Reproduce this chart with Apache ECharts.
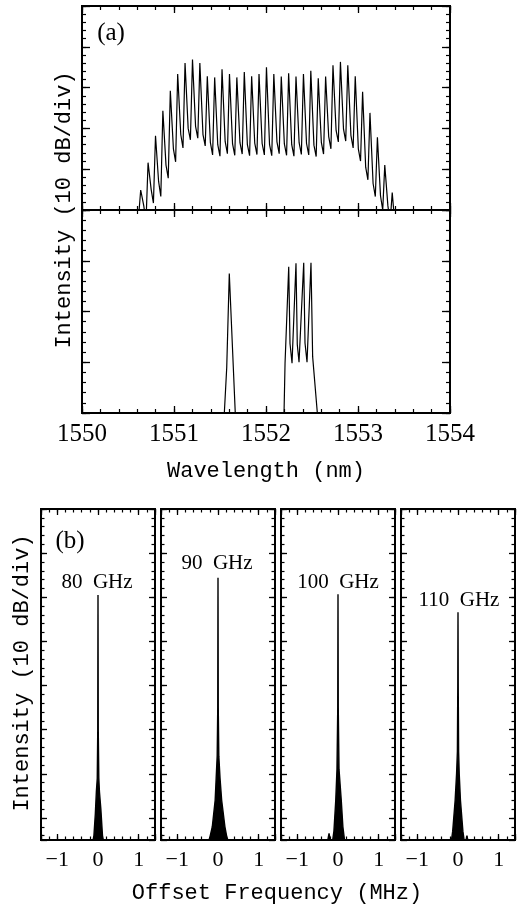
<!DOCTYPE html>
<html><head><meta charset="utf-8">
<script src="https://cdn.jsdelivr.net/npm/echarts@6/dist/echarts.min.js"></script>
<style>html,body{margin:0;padding:0;background:#fff}#c{width:518px;height:908px}</style>
</head><body><div id="c"></div>
<script>
// ---------- Panel (a), upper: 10 GHz comb spectrum ----------
const peakWl = [1550.638, 1550.718, 1550.799, 1550.879, 1550.960, 1551.040, 1551.120, 1551.201, 1551.281, 1551.362,
  1551.442, 1551.522, 1551.603, 1551.683, 1551.764, 1551.844, 1551.924, 1552.005, 1552.085, 1552.166,
  1552.246, 1552.326, 1552.407, 1552.487, 1552.568, 1552.648, 1552.728, 1552.809, 1552.889, 1552.970,
  1553.050, 1553.130, 1553.211, 1553.291, 1553.372];
const peakDb = [4.9, 11.6, 18.2, 24.3, 29.2, 33.3, 36.0, 36.9, 36.0, 32.8,
  32.5, 34.5, 33.3, 32.5, 33.8, 32.8, 33.3, 35.0, 33.3, 32.7,
  33.5, 32.7, 33.3, 34.1, 32.3, 32.7, 35.5, 36.3, 35.5, 32.8,
  29.0, 23.8, 17.8, 11.0, 4.3];
const shoulderDb = [1.0, 5.0, 7.0, 11.0, 15.0, 18.5, 20.0, 20.5, 18.5, 16.5,
  16.0, 16.8, 16.2, 16.5, 16.0, 16.4, 16.3, 16.0, 16.7, 16.2,
  16.0, 16.5, 16.3, 15.9, 16.6, 18.0, 19.5, 19.8, 18.3, 15.0,
  10.5, 6.5, 3.5, 1.0];
const valleyDb = [-3.0, 1.7, 3.3, 7.8, 11.8, 15.2, 17.2, 17.6, 15.7, 13.5,
  13.2, 13.8, 13.4, 13.7, 13.3, 13.6, 13.5, 13.3, 13.8, 13.4,
  13.2, 13.6, 13.5, 13.1, 13.7, 15.0, 16.7, 16.9, 15.2, 12.0,
  7.4, 3.3, 0.0, -3.0];
const edgeWl = [1550.600, 1553.410];
const edgeDb = [-6, -6];

// ---------- Panel (a), lower: selected lines ----------
const lowerWl = [1551.540, 1551.547, 1551.573, 1551.601, 1551.666, 1551.672,
  1552.190, 1552.196, 1552.207, 1552.218, 1552.247, 1552.261, 1552.283, 1552.326,
  1552.340, 1552.359, 1552.410, 1552.424, 1552.446, 1552.489, 1552.507, 1552.558, 1552.565];
const lowerDb = [-3, 0, 8.9, 27.5, 0, -3,
  -3, 0, 9.8, 9.8, 28.8, 13.7, 9.8, 29.5,
  13.5, 10.0, 29.6, 13.8, 10.0, 29.6, 11.1, 0, -3];

// ---------- Panel (b): beat-note spectra ----------
const beatLabels = ['80  GHz', '90  GHz', '100  GHz', '110  GHz'];
const beat80 = [[-1.4,-75],[-0.12,-75],[-0.1,-74],[-0.065,-69],[-0.04,-64],[-0.018,-61],[-0.006,-50],[0,-19.5],[0.006,-50],[0.02,-61],[0.035,-64],[0.07,-68],[0.11,-74],[0.13,-75],[1.4,-75]];
const beat90 = [[-1.4,-75],[-0.22,-75],[-0.19,-74],[-0.14,-72],[-0.07,-66],[-0.045,-61],[-0.02,-56],[-0.006,-45],[0,-15.6],[0.006,-45],[0.02,-56],[0.05,-61],[0.09,-66],[0.17,-72],[0.21,-74],[0.24,-75],[1.4,-75]];
const beat100 = [[-1.4,-75],[-0.25,-75],[-0.22,-73.5],[-0.19,-75],[-0.13,-75],[-0.1,-73],[-0.055,-66],[-0.025,-59],[-0.006,-45],[0,-19.3],[0.006,-45],[0.025,-59],[0.08,-66],[0.12,-72],[0.16,-75],[1.4,-75]];
const beat110 = [[-1.4,-75],[-0.16,-75],[-0.13,-73],[-0.07,-66],[-0.035,-60],[-0.015,-55],[-0.005,-40],[0,-23.4],[0.005,-40],[0.015,-55],[0.03,-60],[0.06,-66],[0.12,-73],[0.15,-75],[0.2,-75],[0.22,-74],[0.24,-75],[1.4,-75]];
const beatData = [beat80, beat90, beat100, beat110];

const rangeA = [1550, 1554];   // wavelength range (nm)
const rangeB = [-1.4, 1.4];    // offset range (MHz)

// ---------- minor tick positions (evenly spaced, edge to edge) ----------
const minorAx = ['1550.0','1550.2','1550.4','1550.6','1550.8','1551.0','1551.2','1551.4','1551.6','1551.8',
  '1552.0','1552.2','1552.4','1552.6','1552.8','1553.0','1553.2','1553.4','1553.6','1553.8','1554.0'];
const minorAy0 = ['0','2','4','6','8','10','12','14','16','18','20','22','24','26','28','30','32','34','36','38','40',
  '42','44','46','48','50'];
const minorAy1 = ['0','2','4','6','8','10','12','14','16','18','20','22','24','26','28','30','32','34','36','38','40'];
const minorBx = ['-1.4','-1.2','-1.0','-0.8','-0.6','-0.4','-0.2','0','0.2','0.4','0.6','0.8','1.0','1.2','1.4'];
const minorBy = ['-75','-74','-73','-72','-71','-70','-69','-68','-67','-66','-65','-64','-63','-62','-61','-60',
  '-59','-58','-57','-56','-55','-54','-53','-52','-51','-50','-49','-48','-47','-46','-45','-44','-43','-42','-41','-40',
  '-39','-38','-37','-36','-35','-34','-33','-32','-31','-30','-29','-28','-27','-26','-25','-24','-23','-22','-21','-20',
  '-19','-18','-17','-16','-15','-14','-13','-12','-11','-10','-9','-8','-7','-6','-5','-4','-3','-2','-1','0'];

// ---------- build ----------
const topPts = [[edgeWl[0], edgeDb[0]]];
for (let i = 0; i < peakWl.length; i++) {
  topPts.push([peakWl[i], peakDb[i]]);
  if (i < peakWl.length - 1) {
    const d = peakWl[i + 1] - peakWl[i];
    topPts.push([peakWl[i] + 0.42 * d, shoulderDb[i]]);
    topPts.push([peakWl[i] + 0.72 * d, valleyDb[i]]);
  }
}
topPts.push([edgeWl[1], edgeDb[1]]);
const lowPts = lowerWl.map((w, i) => [w, lowerDb[i]]);

const FS = "'Liberation Serif', serif";
const FM = "'Liberation Mono', monospace";

function axis(grid, pos, o) {
  const a = {
    type: 'value', gridIndex: grid, position: pos, min: o.min, max: o.max,
    axisLine: { show: true, onZero: false, lineStyle: { color: '#000', width: 2 } },
    axisTick: { show: true, inside: true, length: o.tl, lineStyle: { color: '#000', width: 1.3 } },
    splitLine: { show: false },
    axisLabel: { show: false }
  };
  if (o.interval != null) a.interval = o.interval;
  if (o.splitNumber != null) a.splitNumber = o.splitNumber;
  if (o.label) a.axisLabel = o.label;
  return a;
}
// category axis used only to draw the minor ticks (every category gets a tick)
function minorAxis(grid, pos, cats, len, evenOnly) {
  return {
    type: 'category', gridIndex: grid, position: pos, data: cats, boundaryGap: false,
    axisLine: { show: true, onZero: false, lineStyle: { color: '#000', width: 2 } },
    axisTick: { show: true, inside: true, length: len, alignWithLabel: false,
      interval: evenOnly ? function (idx, val) { return Number(val) % 2 === 0; } : 0,
      lineStyle: { color: '#000', width: 1.2 } },
    splitLine: { show: false },
    axisLabel: { show: false, interval: 0 }
  };
}

const grids = [
  { left: 82, top: 6, width: 368, height: 204 },
  { left: 82, top: 210, width: 368, height: 203 }
];
const bLefts = [41, 161, 281, 401];
bLefts.forEach(l => grids.push({ left: l, top: 509, width: 114, height: 331 }));

const xAxes = [], yAxes = [], series = [];
const aLabel = { show: true, color: '#000', fontFamily: FS, fontSize: 25, margin: 9, formatter: v => String(Math.round(v)) };
const bLabel = { show: true, color: '#000', fontFamily: FS, fontSize: 22, margin: 9,
  formatter: v => (Math.abs(v - Math.round(v)) < 1e-6 ? (v < 0 ? '\u2212' + (-Math.round(v)) : String(Math.round(v))) : '') };

function addGridAxes(g, xo, yo, label) {
  const xi = xAxes.length, yi = yAxes.length;
  xAxes.push(axis(g, 'bottom', Object.assign({}, xo.major, { label: label })));
  xAxes.push(axis(g, 'top', xo.major));
  xAxes.push(minorAxis(g, 'bottom', xo.cats, xo.ml, false));
  xAxes.push(minorAxis(g, 'top', xo.cats, xo.ml, false));
  yAxes.push(axis(g, 'left', yo.major));
  yAxes.push(axis(g, 'right', yo.major));
  yAxes.push(minorAxis(g, 'left', yo.cats, yo.ml, !!yo.evenOnly));
  yAxes.push(minorAxis(g, 'right', yo.cats, yo.ml, !!yo.evenOnly));
  return [xi, yi];
}

// panel (a)
const xA = { major: { min: rangeA[0], max: rangeA[1], interval: 1, tl: 7 }, cats: minorAx, ml: 4 };
const yA0 = { major: { min: 0, max: 50, interval: 10, tl: 8 }, cats: minorAy0, ml: 4 };
const yA1 = { major: { min: 0, max: 40, interval: 10, tl: 8 }, cats: minorAy1, ml: 4 };
const a0 = addGridAxes(0, xA, yA0, null);
const a1 = addGridAxes(1, xA, yA1, aLabel);
series.push({ type: 'line', xAxisIndex: a0[0], yAxisIndex: a0[1], data: topPts, symbol: 'none',
  lineStyle: { color: '#000', width: 1.2 } });
series.push({ type: 'line', xAxisIndex: a1[0], yAxisIndex: a1[1], data: lowPts, symbol: 'none',
  lineStyle: { color: '#000', width: 1.2 } });

// panel (b)
const xB = { major: { min: rangeB[0], max: rangeB[1], splitNumber: 3, tl: 6 }, cats: minorBx, ml: 3.5 };
const yB = { major: { min: -75, max: 0, splitNumber: 7, tl: 6 }, cats: minorBy, ml: 3.5, evenOnly: true };
for (let k = 0; k < 4; k++) {
  const ax = addGridAxes(2 + k, xB, yB, bLabel);
  series.push({ type: 'line', xAxisIndex: ax[0], yAxisIndex: ax[1], data: beatData[k], symbol: 'none',
    lineStyle: { color: '#000', width: 1.4 }, areaStyle: { color: '#000', opacity: 1, origin: 'start' } });
}

function txt(x, y, s, font, size, rot) {
  return { type: 'text', x: x, y: y, rotation: rot || 0, silent: true,
    style: { text: s, fill: '#000', font: size + 'px ' + font, align: 'center', verticalAlign: 'middle',
      textAlign: 'center', textVerticalAlign: 'middle' } };
}
const bLabelPos = [[97, 582], [217, 563], [338, 582], [459, 600]];
const graphics = [
  txt(111, 33, '(a)', FS, 25),
  txt(70, 541, '(b)', FS, 25),
  txt(266, 471, 'Wavelength (nm)', FM, 22),
  txt(277, 893, 'Offset Frequency (MHz)', FM, 22),
  txt(64, 210, 'Intensity (10 dB/div)', FM, 22, Math.PI / 2),
  txt(22, 673, 'Intensity (10 dB/div)', FM, 22, Math.PI / 2)
];
beatLabels.forEach((s, i) => graphics.push(txt(bLabelPos[i][0], bLabelPos[i][1], s, FS, 21)));

const chart = echarts.init(document.getElementById('c'));
chart.setOption({
  animation: false,
  grid: grids,
  xAxis: xAxes,
  yAxis: yAxes,
  series: series,
  graphic: graphics
});
</script>
</body></html>
